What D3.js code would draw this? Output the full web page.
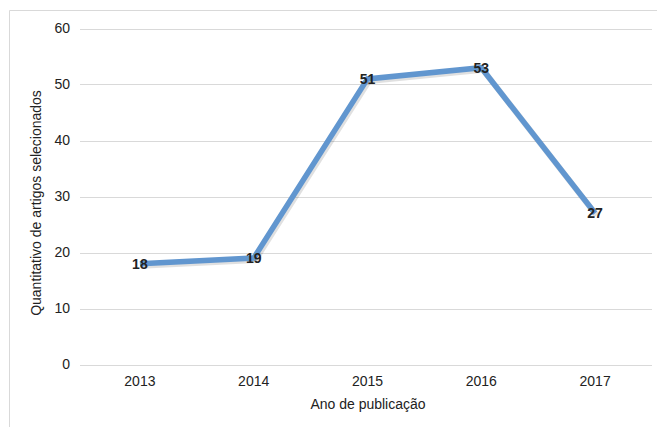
<!DOCTYPE html>
<html>
<head>
    <title>Artigos por ano</title>
    <script src="https://d3js.org/d3.v7.min.js"></script>
    <style>
        body { margin: 0; background: #fff; }
        text { font-family: "Liberation Sans", Arial, sans-serif; fill: #222; }
    </style>
</head>
<body>
    <div id="chart"></div>

    <script>
        const years = ['2013', '2014', '2015', '2016', '2017'];
        const counts = [18, 19, 51, 53, 27];
        const yTicks = [0, 10, 20, 30, 40, 50, 60];

        const W = 657, H = 427;
        const svg = d3.select('#chart')
            .append('svg')
            .attr('width', W)
            .attr('height', H);

        // outer frame (only top and left edges are visible)
        svg.append('path')
            .attr('d', `M9.5,${H} V10.5 H${W}`)
            .attr('fill', 'none')
            .attr('stroke', '#d9d9d9')
            .attr('stroke-width', 1);

        const x = d3.scaleBand()
            .domain(years)
            .range([83, 652]);

        const y = d3.scaleLinear()
            .domain([0, 60])
            .range([364.5, 28.5]);

        // gridlines
        svg.append('g')
            .selectAll('line')
            .data(yTicks)
            .enter()
            .append('line')
            .attr('x1', 80)
            .attr('x2', 652)
            .attr('y1', d => Math.round(y(d)) + 0.5)
            .attr('y2', d => Math.round(y(d)) + 0.5)
            .attr('stroke', '#d9d9d9');

        // y axis labels
        const yAxis = svg.append('g')
            .attr('transform', 'translate(80,0)')
            .call(d3.axisLeft(y).tickValues(yTicks).tickSize(0).tickPadding(10));
        yAxis.select('.domain').remove();
        yAxis.selectAll('text')
            .style('font-size', '14px')
            .style('font-family', '"Liberation Sans", Arial, sans-serif')
            .attr('fill', '#222');

        // x axis labels
        const xAxis = svg.append('g')
            .attr('transform', 'translate(0,364.5)')
            .call(d3.axisBottom(x).tickSize(0).tickPadding(12));
        xAxis.select('.domain').remove();
        xAxis.selectAll('text')
            .style('font-size', '14px')
            .style('font-family', '"Liberation Sans", Arial, sans-serif')
            .attr('fill', '#222');

        const cx = d => x(d) + x.bandwidth() / 2;
        const pts = years.map((d, i) => [cx(d), y(counts[i])]);

        const line = d3.line();

        // soft shadow under the line
        svg.append('path')
            .attr('d', line(pts.map(p => [p[0] + 1.5, p[1] + 2])))
            .attr('fill', 'none')
            .attr('stroke', 'rgba(0,0,0,0.12)')
            .attr('stroke-width', 6)
            .attr('stroke-linejoin', 'miter');

        svg.append('path')
            .attr('d', line(pts))
            .attr('fill', 'none')
            .attr('stroke', '#6196cf')
            .attr('stroke-width', 5.5)
            .attr('stroke-linejoin', 'miter');

        // data labels
        svg.append('g')
            .selectAll('text')
            .data(years)
            .enter()
            .append('text')
            .attr('x', d => cx(d))
            .attr('y', (d, i) => y(counts[i]))
            .attr('dy', '0.36em')
            .attr('text-anchor', 'middle')
            .style('font-size', '14px')
            .style('font-weight', 'bold')
            .attr('fill', '#111')
            .text((d, i) => counts[i]);

        // axis titles
        svg.append('text')
            .attr('x', 368)
            .attr('y', 409)
            .attr('text-anchor', 'middle')
            .style('font-size', '14px')
            .text('Ano de publicação');

        svg.append('text')
            .attr('transform', 'rotate(-90)')
            .attr('x', -203)
            .attr('y', 41)
            .attr('text-anchor', 'middle')
            .style('font-size', '14px')
            .text('Quantitativo de artigos selecionados');
    </script>
</body>
</html>
